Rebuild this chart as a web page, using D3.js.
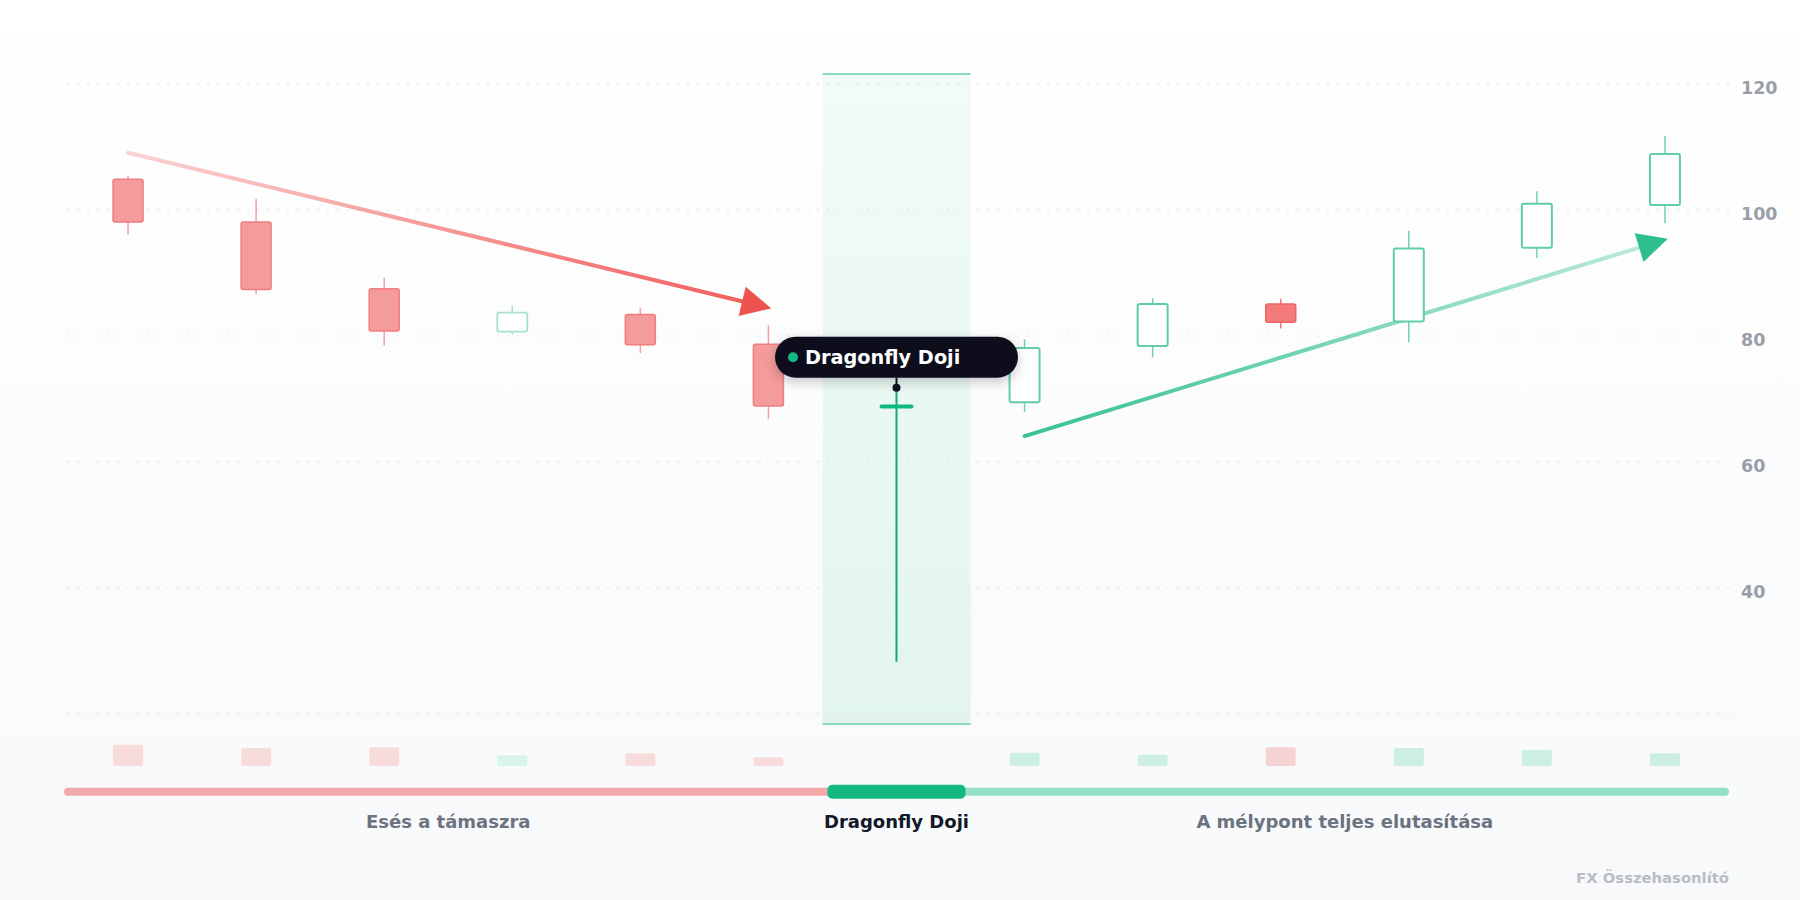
<!DOCTYPE html>
<html lang="hu">
<head>
<meta charset="UTF-8">
<title>Dragonfly Doji</title>
<script src="https://cdn.jsdelivr.net/npm/d3@7"></script>
<style>
  body { margin: 0; background: #fff; }
  svg { display: block; font-family: "DejaVu Sans", sans-serif; }
</style>
</head>
<body>
<svg id="chart" width="1800" height="900"></svg>
<script>
// OHLC
const opens   = [104.8, 98.0, 87.4, 80.6, 83.3, 78.6, 68.7, 69.4, 78.3, 85.0, 82.2, 93.9, 100.7];
const highs   = [105.3, 101.7, 89.2, 84.7, 84.4, 81.6, 71.7, 79.4, 85.9, 85.8, 96.6, 102.9, 111.7];
const lows    = [96.0, 86.5, 78.4, 80.1, 77.2, 66.7, 28.2, 67.8, 76.5, 81.1, 78.9, 92.3, 97.8];
const closes  = [98.0, 87.3, 80.7, 83.6, 78.5, 68.8, 68.7, 78.0, 85.0, 82.1, 93.8, 100.9, 108.8];
const volumes = [32, 27, 28, 16, 19, 13, null, 20, 17, 28, 27, 24, 19];

const priceTicks = [40, 60, 80, 100, 120];
const gridTicks  = [20, 40, 60, 80, 100, 120];

const phaseNames = ["Esés a támaszra", "Dragonfly Doji", "A mélypont teljes elutasítása"];
const phaseStart = [0, 6, 7];
const phaseEnd   = [5, 6, 12];

const fallTrend = [[0, 109], [5, 84.4]];
const riseTrend = [[7, 64], [12, 95.2]];

const dojiIndex = 6;
const patternLabel = "Dragonfly Doji";
const watermark = "FX Összehasonlító";

// layout
const W = 1800, H = 900;
const plotL = 64, plotR = 1729, plotT = 74, plotB = 724;
const volBase = 766, volMaxH = 21.3;
const bodyW = 30;

const svg = d3.select("#chart");
const defs = svg.append("defs");

const x = d3.scaleBand().domain(d3.range(opens.length)).range([plotL, plotR]).padding(0);
const cx = i => x(i) + x.bandwidth() / 2;
const y = d3.scaleLinear().domain([18.3, 121.5]).range([plotB, plotT]);
const vol = d3.scaleLinear().domain([0, d3.max(volumes)]).range([0, volMaxH]);

function vGrad(id, c0, c1) {
    const g = defs.append("linearGradient").attr("id", id)
        .attr("x1", 0).attr("y1", 0).attr("x2", 0).attr("y2", 1);
    g.append("stop").attr("offset", 0).attr("stop-color", c0);
    g.append("stop").attr("offset", 1).attr("stop-color", c1);
}
vGrad("bg", "#ffffff", "#f8f9fb");
vGrad("band", "#f2fbf8", "#e2f5ed");

const shadow = defs.append("filter").attr("id", "shadow")
    .attr("x", "-20%").attr("y", "-50%").attr("width", "140%").attr("height", "220%");
shadow.append("feDropShadow").attr("dx", 0).attr("dy", 4).attr("stdDeviation", 6)
    .attr("flood-color", "#0f172a").attr("flood-opacity", 0.22);

svg.append("rect").attr("width", W).attr("height", H).attr("fill", "url(#bg)");

// highlight band for the doji
const bandX0 = x(dojiIndex) - 10, bandX1 = x(dojiIndex) + x.bandwidth() + 10;
svg.append("rect")
    .attr("x", bandX0).attr("y", plotT)
    .attr("width", bandX1 - bandX0).attr("height", plotB - plotT)
    .attr("fill", "url(#band)");
svg.selectAll(".bandEdge").data([plotT, plotB]).enter().append("line")
    .attr("x1", bandX0).attr("x2", bandX1)
    .attr("y1", d => d).attr("y2", d => d)
    .attr("stroke", "#8ed8bc").attr("stroke-width", 2);

// grid
svg.append("g")
    .attr("transform", "translate(" + plotR + ",0)")
    .call(d3.axisRight(y).tickValues(gridTicks).tickSize(-(plotR - plotL)).tickFormat(""))
    .call(g => g.select(".domain").remove())
    .call(g => g.selectAll("line")
        .attr("stroke", "#e2e5e9").attr("stroke-width", 1.5).attr("stroke-dasharray", "2 8"));

// price labels
svg.append("g")
    .attr("transform", "translate(" + plotR + ",0)")
    .call(d3.axisRight(y).tickValues(priceTicks).tickSize(0).tickPadding(12))
    .call(g => g.select(".domain").remove())
    .call(g => g.selectAll("text")
        .attr("dy", "0.58em")
        .attr("fill", "#9a9ea6").attr("font-size", 17.5).attr("font-weight", "bold")
        .attr("font-family", "DejaVu Sans, sans-serif"));

// arrows
function arrow(pts, id, c0, o0, c1, o1, head) {
    const p0 = [cx(pts[0][0]), y(pts[0][1])];
    const p1 = [cx(pts[1][0]), y(pts[1][1])];
    const a = Math.atan2(p1[1] - p0[1], p1[0] - p0[0]);
    const ca = Math.cos(a), sa = Math.sin(a);
    const tip = [p1[0] + 3 * ca, p1[1] + 3 * sa];
    const base = [tip[0] - 30 * ca, tip[1] - 30 * sa];
    const g = defs.append("linearGradient").attr("id", id)
        .attr("gradientUnits", "userSpaceOnUse")
        .attr("x1", p0[0]).attr("y1", p0[1]).attr("x2", p1[0]).attr("y2", p1[1]);
    g.append("stop").attr("offset", 0).attr("stop-color", c0).attr("stop-opacity", o0);
    g.append("stop").attr("offset", 1).attr("stop-color", c1).attr("stop-opacity", o1);
    svg.append("line")
        .attr("x1", p0[0]).attr("y1", p0[1])
        .attr("x2", base[0] + 6 * ca).attr("y2", base[1] + 6 * sa)
        .attr("stroke", "url(#" + id + ")").attr("stroke-width", 4).attr("stroke-linecap", "round");
    svg.append("path")
        .attr("d", d3.line()([
            tip,
            [base[0] - 15 * sa, base[1] + 15 * ca],
            [base[0] + 15 * sa, base[1] - 15 * ca]
        ]) + "Z")
        .attr("fill", head);
}
arrow(fallTrend, "fallGrad", "#ef5350", 0.25, "#ef5350", 0.95, "#ef5350");
arrow(riseTrend, "riseGrad", "#2ebf8c", 0.95, "#2ebf8c", 0.3, "#2ebf8c");

// candle styling
function candleStyle(i) {
    const up = closes[i] >= opens[i];
    const inFall = i <= phaseEnd[0];
    if (up) {
        return inFall
            ? { fill: "#ffffff", stroke: "#a6e4cc", wick: "#a6e4cc", sw: 1.8, vol: "#d9f4ea" }
            : { fill: "#ffffff", stroke: "#5fcea5", wick: "#6fd3ad", sw: 2, vol: "#cdeee2" };
    }
    return inFall
        ? { fill: "#f59b9b", stroke: "#ef7e7e", wick: "#f3a0a0", sw: 1.5, vol: "#f8dcdc" }
        : { fill: "#f37b7b", stroke: "#ef6565", wick: "#f07272", sw: 1.5, vol: "#f6d3d3" };
}

const idx = d3.range(opens.length).filter(i => i !== dojiIndex);

// volume bars
svg.append("g").selectAll("rect")
    .data(idx.filter(i => volumes[i] != null)).enter().append("rect")
    .attr("x", i => cx(i) - bodyW / 2)
    .attr("y", i => volBase - vol(volumes[i]))
    .attr("width", bodyW)
    .attr("height", i => vol(volumes[i]))
    .attr("rx", 2)
    .attr("fill", i => candleStyle(i).vol);

// candles
const candles = svg.append("g").selectAll("g").data(idx).enter().append("g");
candles.append("line")
    .attr("x1", i => cx(i)).attr("x2", i => cx(i))
    .attr("y1", i => y(highs[i])).attr("y2", i => y(lows[i]))
    .attr("stroke", i => candleStyle(i).wick).attr("stroke-width", 1.5);
candles.append("rect")
    .attr("x", i => cx(i) - bodyW / 2)
    .attr("y", i => y(Math.max(opens[i], closes[i])))
    .attr("width", bodyW)
    .attr("height", i => Math.abs(y(opens[i]) - y(closes[i])))
    .attr("rx", 2)
    .attr("fill", i => candleStyle(i).fill)
    .attr("stroke", i => candleStyle(i).stroke)
    .attr("stroke-width", i => candleStyle(i).sw);

// the doji itself
const dx = cx(dojiIndex);
svg.append("line")
    .attr("x1", dx).attr("x2", dx)
    .attr("y1", y(highs[dojiIndex])).attr("y2", y(lows[dojiIndex]))
    .attr("stroke", "#12a87a").attr("stroke-width", 2);
svg.append("line")
    .attr("x1", dx - 15).attr("x2", dx + 15)
    .attr("y1", y(opens[dojiIndex])).attr("y2", y(closes[dojiIndex]))
    .attr("stroke", "#10b981").attr("stroke-width", 4).attr("stroke-linecap", "round");

// tooltip
const tipW = 243, tipH = 41;
const tipBottom = y(highs[dojiIndex]) - 10;
const tipG = svg.append("g");
tipG.append("line")
    .attr("x1", dx).attr("x2", dx)
    .attr("y1", tipBottom).attr("y2", y(highs[dojiIndex]))
    .attr("stroke", "#0f0f1e").attr("stroke-width", 2);
tipG.append("circle").attr("cx", dx).attr("cy", y(highs[dojiIndex])).attr("r", 4).attr("fill", "#0f0f1e");
tipG.append("rect")
    .attr("x", dx - tipW / 2).attr("y", tipBottom - tipH)
    .attr("width", tipW).attr("height", tipH).attr("rx", tipH / 2)
    .attr("fill", "#0f0f1e").attr("filter", "url(#shadow)");
tipG.append("circle")
    .attr("cx", dx - tipW / 2 + 18).attr("cy", tipBottom - tipH / 2)
    .attr("r", 5).attr("fill", "#10b981");
tipG.append("text")
    .attr("x", dx - tipW / 2 + 30).attr("y", tipBottom - tipH / 2 + 7)
    .attr("fill", "#ffffff").attr("font-size", 19.3).attr("font-weight", "bold")
    .text(patternLabel);

// phase bar
const phaseY = 791.7;
const segX0 = i => x(phaseStart[i]);
const segX1 = i => x(phaseEnd[i]) + x.bandwidth();
const phaseColor = ["#f3a9a9", "#14b882", "#93e0c4"];
const order = [0, 2, 1];
svg.append("g").selectAll("rect").data(order).enter().append("rect")
    .attr("x", i => i === 1 ? segX0(i) - 5 : segX0(i))
    .attr("width", i => i === 1 ? segX1(i) - segX0(i) + 10 : segX1(i) - segX0(i))
    .attr("y", i => i === 1 ? phaseY - 7 : phaseY - 4)
    .attr("height", i => i === 1 ? 14 : 8)
    .attr("rx", i => i === 1 ? 5 : 4)
    .attr("fill", i => phaseColor[i]);
svg.append("g").selectAll("text").data(d3.range(phaseNames.length)).enter().append("text")
    .attr("x", i => (segX0(i) + segX1(i)) / 2)
    .attr("y", 828)
    .attr("text-anchor", "middle")
    .attr("font-size", 18).attr("font-weight", "bold")
    .attr("fill", i => i === 1 ? "#111827" : "#6b7280")
    .text(i => phaseNames[i]);

svg.append("text")
    .attr("x", plotR).attr("y", 883)
    .attr("text-anchor", "end")
    .attr("font-size", 14.8).attr("font-weight", "bold")
    .attr("fill", "#b8bcc3")
    .text(watermark);
</script>
</body>
</html>
